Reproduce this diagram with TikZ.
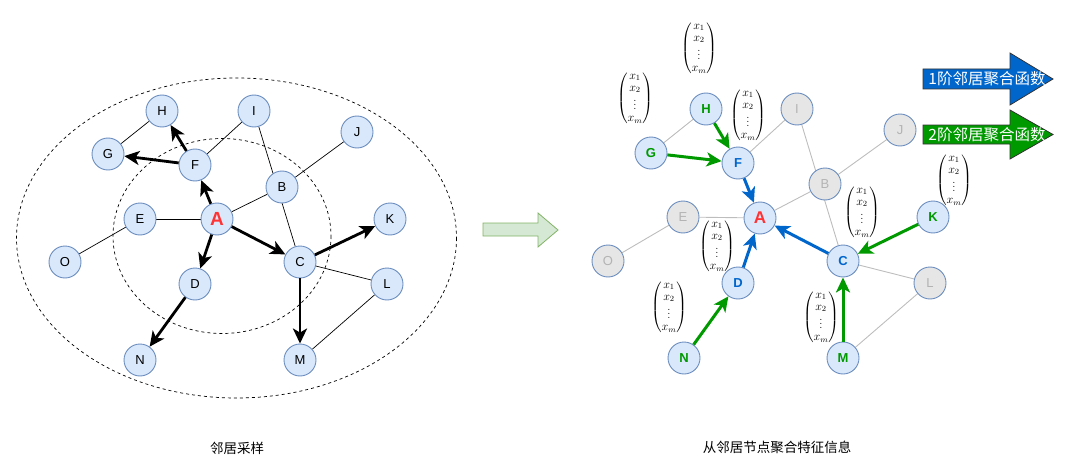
\documentclass[tikz,border=0pt]{standalone}
\usepackage{amsmath}
\usepackage{fontspec}
\setsansfont{Liberation Sans}
\newfontfamily\cjk{Noto Sans CJK SC}
\usetikzlibrary{arrows.meta}
\definecolor{nodefill}{HTML}{DAE8FC}
\definecolor{nodeborder}{HTML}{6C8EBF}
\definecolor{grayfill}{HTML}{E6E6E6}
\definecolor{graytext}{HTML}{B3B3B3}
\definecolor{grayline}{HTML}{BDBDBD}
\definecolor{agreen}{HTML}{009900}
\definecolor{ablue}{HTML}{0066CC}
\definecolor{ared}{HTML}{FF3333}
\definecolor{midfill}{HTML}{D5E8D4}
\definecolor{midline}{HTML}{82B366}
\pgfdeclarelayer{bg}
\pgfsetlayers{bg,main}
\newcommand{\xvec}{$\renewcommand{\arraystretch}{0.92}\begin{pmatrix}x_1\\x_2\\\vdots\\x_m\end{pmatrix}$}
\begin{document}
\begin{tikzpicture}[x=1pt,y=-1pt,
  nd/.style={circle,draw=nodeborder,fill=nodefill,line width=0.9pt,minimum size=32pt,inner sep=0pt,font=\sffamily\fontsize{13}{13}\selectfont},
  gnd/.style={nd,fill=grayfill,text=graytext},
  bnd/.style={nd,font=\sffamily\bfseries\fontsize{13}{13}\selectfont},
  anode/.style={nd,text=ared,font=\sffamily\bfseries\fontsize{19}{19}\selectfont},
  thinln/.style={line width=0.7pt,draw=black},
  gthinln/.style={line width=0.9pt,draw=grayline},
  thickarr/.style={line width=2.8pt,draw=black,-{Stealth[length=15pt,width=14pt,inset=4pt]}},
  garr/.style={line width=3pt,draw=agreen,-{Stealth[length=15pt,width=14pt,inset=4pt]}},
  barr/.style={line width=3pt,draw=ablue,-{Stealth[length=15pt,width=14pt,inset=4pt]}},
  vec/.style={inner sep=0pt,font=\fontsize{11.5}{13}\selectfont},
  captxt/.style={font=\cjk\fontsize{13.5}{13.5}\selectfont},
  legtxt/.style={text=white,font=\cjk\fontsize{15.5}{15.5}\selectfont}
]
\useasboundingbox (0,0) rectangle (1080,460);

% ---------- left ----------
\draw[dashed,line width=0.7pt] (236.5,238) ellipse [x radius=220,y radius=160];
\draw[dashed,line width=0.7pt] (222,236) ellipse [x radius=109,y radius=97.5];

\node[nd] (lH) at (162,111) {H};
\node[nd] (lI) at (254,111) {I};
\node[nd] (lJ) at (357,132) {J};
\node[nd] (lG) at (108,154) {G};
\node[nd] (lF) at (195,165) {F};
\node[nd] (lB) at (282,187) {B};
\node[nd] (lE) at (140,219) {E};
\node[anode] (lA) at (217,219) {A};
\node[nd] (lK) at (390,219) {K};
\node[nd] (lO) at (65,262) {O};
\node[nd] (lC) at (300,262) {C};
\node[nd] (lD) at (195,284) {D};
\node[nd] (lL) at (387,284) {L};
\node[nd] (lN) at (140,360) {N};
\node[nd] (lM) at (300,360) {M};

\begin{pgfonlayer}{bg}
\draw[thinln] (lH) -- (lG);
\draw[thinln] (lI) -- (lF);
\draw[thinln] (lI) -- (lC);
\draw[thinln] (lJ) -- (lB);
\draw[thinln] (lB) -- (lA);
\draw[thinln] (lE) -- (lA);
\draw[thinln] (lE) -- (lO);
\draw[thinln] (lC) -- (lL);
\draw[thinln] (lL) -- (lM);
\end{pgfonlayer}
\draw[thickarr] (lF) -- (lH);
\draw[thickarr] (lF) -- (lG);
\draw[thickarr] (lA) -- (lF);
\draw[thickarr] (lA) -- (lC);
\draw[thickarr] (lA) -- (lD);
\draw[thickarr] (lC) -- (lK);
\draw[thickarr] (lC) -- (lM);
\draw[thickarr] (lD) -- (lN);

\node[captxt] (capL) at (237,448) {邻居采样};

% ---------- middle arrow ----------
\draw[fill=midfill,draw=midline,line width=0.8pt]
  (483,223) -- (538,223) -- (538,213) -- (558,230) -- (538,247) -- (538,236) -- (483,236) -- cycle;

% ---------- right ----------
\node[bnd,text=agreen] (rH) at (706,109) {H};
\node[gnd] (rI) at (797,109) {I};
\node[gnd] (rJ) at (900,130) {J};
\node[bnd,text=agreen] (rG) at (651,153) {G};
\node[bnd,text=ablue] (rF) at (738,163) {F};
\node[gnd] (rB) at (825,184) {B};
\node[gnd] (rE) at (683,217) {E};
\node[anode,font=\sffamily\bfseries\fontsize{17}{17}\selectfont] (rA) at (760,218) {A};
\node[bnd,text=agreen] (rK) at (933,217) {K};
\node[gnd] (rO) at (608,261) {O};
\node[bnd,text=ablue] (rC) at (843,261) {C};
\node[bnd,text=ablue] (rD) at (738,283) {D};
\node[gnd] (rL) at (930,283) {L};
\node[bnd,text=agreen] (rN) at (684,358) {N};
\node[bnd,text=agreen] (rM) at (843,358) {M};

\begin{pgfonlayer}{bg}
\draw[gthinln] (rH) -- (rG);
\draw[gthinln] (rI) -- (rF);
\draw[gthinln] (rI) -- (rC);
\draw[gthinln] (rJ) -- (rB);
\draw[gthinln] (rB) -- (rA);
\draw[gthinln] (rE) -- (rA);
\draw[gthinln] (rE) -- (rO);
\draw[gthinln] (rC) -- (rL);
\draw[gthinln] (rL) -- (rM);
\end{pgfonlayer}
\draw[garr] (rH) -- (rF);
\draw[garr] (rG) -- (rF);
\draw[garr] (rK) -- (rC);
\draw[garr] (rM) -- (rC);
\draw[garr] (rN) -- (rD);
\draw[barr] (rF) -- (rA);
\draw[barr] (rD) -- (rA);
\draw[barr] (rC) -- (rA);

\node[vec] (vH) at (699,48) {\xvec};
\node[vec] (vG) at (635,98) {\xvec};
\node[vec] (vF) at (748,115) {\xvec};
\node[vec] (vC) at (862,212) {\xvec};
\node[vec] (vK) at (954,180) {\xvec};
\node[vec] (vD) at (717,246) {\xvec};
\node[vec] (vN) at (669,307) {\xvec};
\node[vec] (vM) at (821,317) {\xvec};

% ---------- legend ----------
\draw[fill=ablue,draw=black!80,line width=0.8pt]
  (923,69) -- (1010,69) -- (1010,53) -- (1053,79) -- (1010,105) -- (1010,89) -- (923,89) -- cycle;
\node[legtxt] (leg1) at (987,79) {1阶邻居聚合函数};
\draw[fill=agreen,draw=black!80,line width=0.8pt]
  (923,125) -- (1010,125) -- (1010,110) -- (1053,134.5) -- (1010,159) -- (1010,144) -- (923,144) -- cycle;
\node[legtxt] (leg2) at (987,134.5) {2阶邻居聚合函数};

\node[captxt] (capR) at (777,447) {从邻居节点聚合特征信息};
\end{tikzpicture}
\end{document}
